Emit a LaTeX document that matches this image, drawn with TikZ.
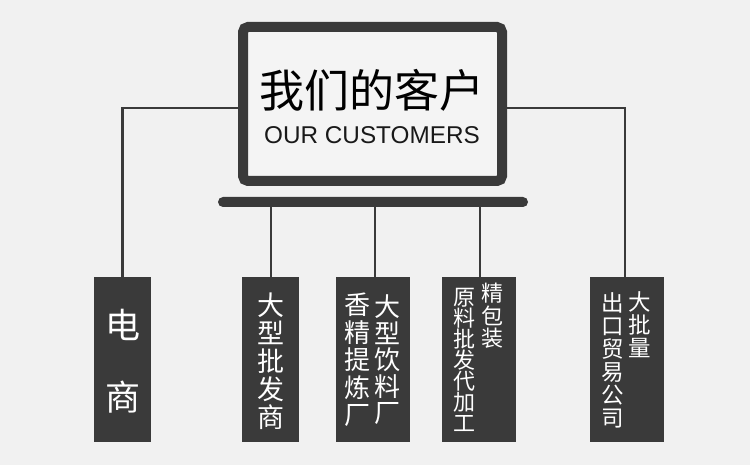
\documentclass[tikz,border=0pt]{standalone}
\usepackage{fontspec}
\setmainfont{Liberation Sans}
\newfontfamily\cjk{Noto Sans CJK SC}
\definecolor{dk}{HTML}{3A3A3A}
\definecolor{bg}{HTML}{F1F1F1}
\definecolor{scr}{HTML}{F4F4F4}
\begin{document}
\begin{tikzpicture}[x=1pt,y=-1pt,
  conn/.style={draw=dk,line width=2.8pt},
  box/.style={fill=dk,draw=none,inner sep=0pt,anchor=north west},
  col/.style={text=white,inner sep=0pt,align=center},
]
\fill[bg] (0,0) rectangle (750,465);
\useasboundingbox (0,0) rectangle (750,465);
% laptop
\node[draw=dk,fill=scr,line width=10pt,rounded corners=5pt,minimum width=259pt,minimum height=154pt,inner sep=0pt] (laptop) at (372.5,104) {};
\node[fill=dk,rounded corners=5pt,minimum width=310pt,minimum height=10pt,inner sep=0pt] (base) at (373,202) {};
\node[inner sep=0pt,font={\cjk\fontsize{45}{45}\selectfont},text=black] (t1) at (372,90) {我们的客户};
\node[inner sep=0pt,font={\fontsize{24.3}{24.3}\selectfont},text=black!90] (t2) at (372,135) {OUR CUSTOMERS};
% boxes
\node[box,minimum width=57pt,minimum height=165pt] (b1) at (94,277) {};
\node[box,minimum width=57pt,minimum height=165pt] (b2) at (242,277) {};
\node[box,minimum width=74pt,minimum height=165pt] (b3) at (336,277) {};
\node[box,minimum width=74pt,minimum height=165pt] (b4) at (442,277) {};
\node[box,minimum width=74pt,minimum height=165pt] (b5) at (590,277) {};
% connectors
\draw[conn] (laptop.west |- 0,108) -| (b1.north);
\draw[conn] (laptop.east |- 0,108) -| (b5.north -| 625,0);
\draw[conn] (base.south -| 271,0) -- (b2.north -| 271,0);
\draw[conn] (base.south -| 375,0) -- (b3.north -| 375,0);
\draw[conn] (base.south -| 480,0) -- (b4.north -| 480,0);
% texts
\node[col,font={\cjk\fontsize{35}{72}\selectfont}] (c1) at (123,361) {电\\商};
\node[col,font={\cjk\fontsize{27}{28}\selectfont}] (c2) at (270.5,361) {大\\型\\批\\发\\商};
\node[col,font={\cjk\fontsize{26}{27.5}\selectfont}] (c3a) at (357,360) {香\\精\\提\\炼\\厂};
\node[col,font={\cjk\fontsize{26}{26.5}\selectfont}] (c3b) at (387,360) {大\\型\\饮\\料\\厂};
\node[col,font={\cjk\fontsize{22}{21}\selectfont}] (c4a) at (464,360) {原\\料\\批\\发\\代\\加\\工};
\node[col,font={\cjk\fontsize{22}{22.5}\selectfont}] (c4b) at (492,316) {精\\包\\装};
\node[col,font={\cjk\fontsize{22.5}{23}\selectfont}] (c5a) at (613,360.5) {出\\口\\贸\\易\\公\\司};
\node[col,font={\cjk\fontsize{22.5}{23}\selectfont}] (c5b) at (640,325) {大\\批\\量};
\end{tikzpicture}
\end{document}
